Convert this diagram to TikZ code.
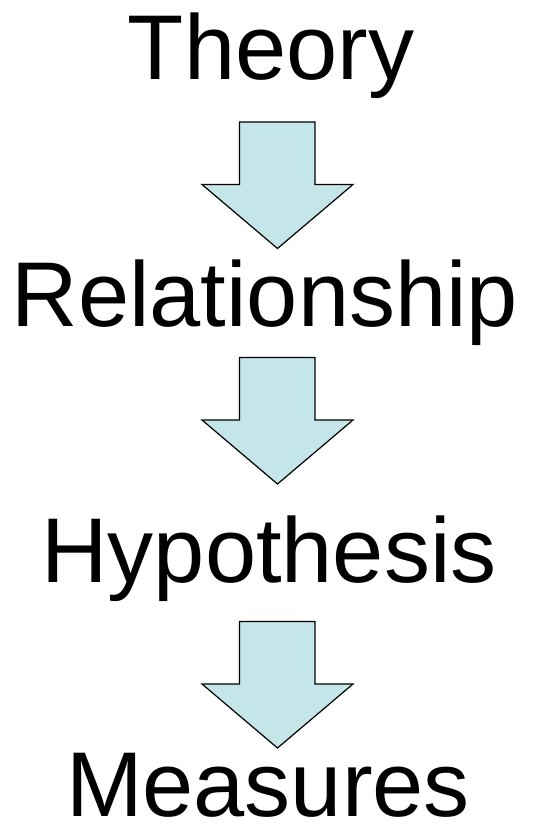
\documentclass[tikz,border=0pt]{standalone}
\usepackage{fontspec}
\setmainfont{Liberation Sans}
\definecolor{arrowfill}{RGB}{197,230,232}
\begin{document}
\begin{tikzpicture}[x=1pt,y=1pt,
  word/.style={anchor=base,inner sep=0pt,font=\fontsize{92}{100}\selectfont},
  blockarrow/.style={draw=black,line width=1.2pt,fill=arrowfill,line join=miter}]
\useasboundingbox (0,0) rectangle (537,827);
% texts (y measured from top: y = 827 - px)
\node[word] (theory) at (271,827-80) {Theory};
\node[word] (rel) at (265,827-326.5) {Relationship};
\node[word] (hyp) at (269,827-583) {Hypothesis};
\node[word,text depth=0pt] (meas) at (268,827-817) {Measures};
% block arrows: top y px given
\foreach \t/\n in {122/a1,357.5/a2,621.5/a3}{
  \draw[blockarrow] (239.5,827-\t) -- (315,827-\t) -- (315,827-\t-62.5)
     -- (353,827-\t-62.5) -- (277.5,827-\t-126.5) -- (202,827-\t-62.5)
     -- (239.5,827-\t-62.5) -- cycle;
}
\end{tikzpicture}
\end{document}
